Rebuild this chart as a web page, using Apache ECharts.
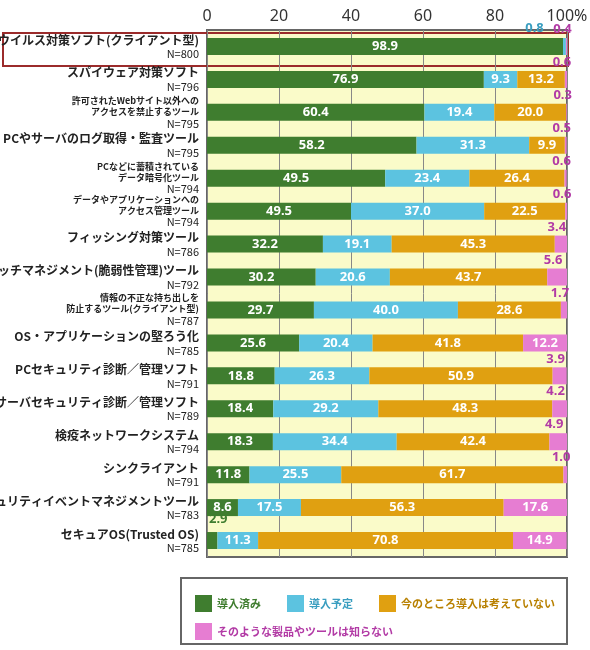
<!DOCTYPE html><html><head><meta charset="utf-8"><script src="https://cdn.jsdelivr.net/npm/echarts@6/dist/echarts.min.js"></script></head><body style="margin:0;background:#fff"><div id="c" style="width:590px;height:650px"></div><script>
const names=['ウイルス対策ソフト(クライアント型)','スパイウェア対策ソフト','許可されたWebサイト以外への\nアクセスを禁止するツール','PCやサーバのログ取得・監査ツール','PCなどに蓄積されている\nデータ暗号化ツール','データやアプリケーションへの\nアクセス管理ツール','フィッシング対策ツール','パッチマネジメント(脆弱性管理)ツール','情報の不正な持ち出しを\n防止するツール(クライアント型)','OS・アプリケーションの堅ろう化','PCセキュリティ診断／管理ソフト','サーバセキュリティ診断／管理ソフト','検疫ネットワークシステム','シンクライアント','セキュリティイベントマネジメントツール','セキュアOS(Trusted OS)'];
const ns=[800,796,795,795,794,794,786,792,787,785,791,789,794,791,783,785];
const installed=[98.9,76.9,60.4,58.2,49.5,40.0,32.2,30.2,29.7,25.6,18.8,18.4,18.3,11.8,8.6,2.9];
const installedLabels=['98.9','76.9','60.4','58.2','49.5','49.5','32.2','30.2','29.7','25.6','18.8','18.4','18.3','11.8','8.6','2.9'];
const planned=[0.8,9.3,19.4,31.3,23.4,37.0,19.1,20.6,40.0,20.4,26.3,29.2,34.4,25.5,17.5,11.3];
const notPlanned=[0,13.2,20.0,9.9,26.4,22.5,45.3,43.7,28.6,41.8,50.9,48.3,42.4,61.7,56.3,70.8];
const unknown=[0.4,0.6,0.3,0.5,0.6,0.6,3.4,5.6,1.7,12.2,3.9,4.2,4.9,1.0,17.6,14.9];
const ticks=[0,20,40,60,80,100];
const seriesNames=['導入済み','導入予定','今のところ導入は考えていない','そのような製品やツールは知らない'];
const colors=['#3f7d2f','#5cc3e0','#e0a011','#e67dd2'];
const labColors=['#3f7d2f','#3a9ec0','#b88000','#b23aa5'];
const small=[2,4,5,8];
function mk(i,arr){
  return {name:seriesNames[i],type:'bar',stack:'s',barWidth:17,itemStyle:{color:colors[i]},
    data:arr.map((v,k)=>{
      const d={value:v};
      const inside=v>=8;
      if(i===0){d.label={show:true,position:v<5?'top':'inside',color:v<5?labColors[0]:'#fff',formatter:installedLabels[k],offset:v<5?[6,-1]:[0,0]};}
      else if(v===0){d.label={show:false};}
      else if(inside){d.label={show:true,position:'inside',color:'#fff'};}
      else {d.label={show:true,position:'top',color:labColors[i],distance:1,offset:i===1?[-30,-2]:[-4,-1]};}
      return d;}),
    label:{fontSize:13,fontWeight:'bold',fontFamily:'Noto Sans',formatter:p=>p.value.toFixed(1)}};
}
const legText=i=>({color:labColors[i],fontSize:11,fontWeight:'bold',fontFamily:'Noto Sans CJK JP'});
const ch=echarts.init(document.getElementById('c'));
ch.setOption({
  animation:false,
  grid:{left:207,right:23,top:30,bottom:93,outerBoundsMode:'none',containLabel:false,backgroundColor:'#fafbc9',show:true,borderColor:'#666',borderWidth:2},
  xAxis:{type:'value',position:'top',min:0,max:100,interval:20,axisLine:{show:false},axisTick:{show:false},
    splitLine:{lineStyle:{color:'#888'}},
    axisLabel:{fontSize:16,color:'#333',fontFamily:'Noto Sans',margin:6,formatter:v=>ticks.includes(v)?(v===100?'100%':v):''}},
  yAxis:{type:'category',inverse:true,data:names,axisLine:{show:false},axisTick:{show:false},
    axisLabel:{margin:8,align:'right',fontFamily:'Noto Sans CJK JP',color:'#222',
      formatter:(v,k)=>{const t=small.includes(k)?'s':'b';return '{'+t+'|'+v.split('\n').join('}\n{'+t+'|')+'}\n{n|N='+ns[k]+'}';},
      rich:{b:{fontSize:12,lineHeight:15,color:'#222',fontWeight:'bold'},s:{fontSize:9,lineHeight:11,color:'#222',fontWeight:'bold'},n:{fontSize:11,lineHeight:13,color:'#222'}}}},
  legend:[
    {left:190,top:590,itemWidth:17,itemHeight:17,itemGap:26,icon:'rect',
     data:[0,1,2].map(i=>({name:seriesNames[i],textStyle:legText(i)}))},
    {left:190,top:618,itemWidth:17,itemHeight:17,icon:'rect',
     data:[{name:seriesNames[3],textStyle:legText(3)}]}
  ],
  graphic:[
    {type:'rect',shape:{x:181,y:578,width:386,height:66},style:{fill:'none',stroke:'#666',lineWidth:2}},
    {type:'rect',shape:{x:3,y:33,width:565,height:33},style:{fill:'none',stroke:'#9b2b2b',lineWidth:2}}
  ],
  series:[mk(0,installed),mk(1,planned),mk(2,notPlanned),mk(3,unknown)]
});
</script></body></html>
